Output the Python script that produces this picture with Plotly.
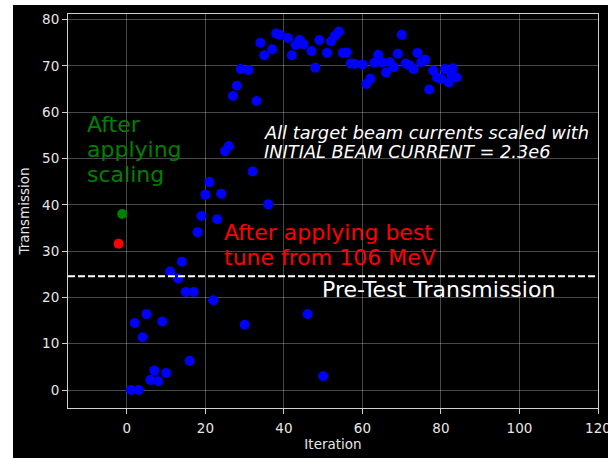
import plotly.graph_objects as go

# Optimisation run: transmission per iteration
iter_blue = [1, 2, 3, 4, 5, 6, 7, 8, 9, 10, 11, 13, 14, 15, 16, 17, 18, 19, 20, 21,
             22, 23, 24, 25, 26, 27, 28, 29, 30, 31, 32, 33, 34, 35, 36, 37, 38, 39, 41, 42,
             43, 44, 45, 46, 47, 48, 49, 50, 51, 52, 53, 54, 55, 56, 57, 58, 60, 61, 62, 63,
             64, 65, 66, 67, 68, 69, 70, 71, 72, 73, 74, 75, 76, 77, 78, 79, 80, 81, 82, 82.7,
             83, 84]
trans_blue = [0.0, 14.5, 0.0, 11.4, 16.4, 2.2, 4.2, 1.9, 14.8, 3.7, 25.6, 24.1, 27.7, 21.2, 6.3, 21.2, 34.1, 37.6, 42.2, 44.9,
              19.4, 36.9, 42.4, 51.6, 52.7, 63.5, 65.7, 69.3, 14.1, 69.1, 47.2, 62.4, 75.0, 72.3, 40.1, 73.6, 77.0, 76.7, 76.0, 72.3,
              74.5, 75.6, 74.7, 16.4, 73.2, 69.6, 75.6, 3.0, 72.8, 75.3, 76.5, 77.4, 72.8, 72.9, 70.5, 70.4, 70.3, 66.1, 67.2, 70.7,
              72.4, 70.8, 68.6, 70.8, 69.7, 72.6, 76.7, 70.5, 70.1, 69.3, 72.8, 70.8, 71.3, 64.9, 69.0, 67.5, 67.2, 69.3, 66.4, 68.2,
              69.5, 67.5]

# Starting points
iter_scaled = [-1.2]
trans_scaled = [38.0]
iter_best_tune = [-2.1]
trans_best_tune = [31.6]

pre_test_transmission = 24.6

x_ticks = [0, 20, 40, 60, 80, 100, 120]
y_ticks = [0, 10, 20, 30, 40, 50, 60, 70, 80]

FONT = "DejaVu Sans"
W, H = 610, 458
L, R, T, B = 68, 12, 14, 50
PW, PH = W - L - R, H - T - B

fig = go.Figure()
fig.add_trace(go.Scatter(x=iter_blue, y=trans_blue, mode="markers",
                         marker=dict(color="#0000ff", size=10, line=dict(width=0))))
fig.add_trace(go.Scatter(x=iter_scaled, y=trans_scaled, mode="markers",
                         marker=dict(color="#008000", size=10, line=dict(width=0))))
fig.add_trace(go.Scatter(x=iter_best_tune, y=trans_best_tune, mode="markers",
                         marker=dict(color="#ff0000", size=10, line=dict(width=0))))

# Pre-test reference line
fig.add_shape(type="line", xref="paper", yref="y", x0=0, x1=1,
              y0=pre_test_transmission, y1=pre_test_transmission,
              line=dict(color="white", width=2, dash="7px,3px"))


def note(x, y, text, color, size, italic=False):
    fig.add_annotation(x=x, y=y, xref="x", yref="y", text=text, showarrow=False,
                       xanchor="left", yanchor="middle",
                       font=dict(family=FONT, size=size, color=color,
                                 style="italic" if italic else "normal"))


for yy, line in zip([57.3, 51.9, 46.6], ["After", "applying", "scaling"]):
    note(-10.7, yy, line, "#008000", 22)
for yy, line in zip([34.1, 28.7], ["After applying best", "tune from 106 MeV"]):
    note(24.1, yy, line, "#ff0000", 22)
for yy, line in zip([55.6, 51.6], ["All target beam currents scaled with",
                                   "INITIAL BEAM CURRENT = 2.3e6"]):
    note(34.3, yy, line, "white", 17.8, italic=True)
note(49.2, 21.8, "Pre-Test Transmission", "white", 22)


# white page edges around the dark figure
def px_rect(x0, y0, x1, y1):
    fig.add_shape(type="rect", xref="paper", yref="paper", layer="above",
                  x0=(x0 - L) / PW, x1=(x1 - L) / PW,
                  y0=(H - B - y1) / PH, y1=(H - B - y0) / PH,
                  fillcolor="white", line=dict(width=0))


px_rect(0, 0, W, 5)
px_rect(0, 0, 13, H)
px_rect(608, 0, W, H)

axis_common = dict(showline=True, linecolor="#d0d0d0", linewidth=1, mirror=True,
                   ticks="outside", ticklen=5, tickwidth=1, tickcolor="#d0d0d0",
                   showgrid=True, gridcolor="rgba(255,255,255,0.28)", gridwidth=1,
                   zeroline=False, automargin=False, ticklabeloverflow="allow",
                   tickfont=dict(family=FONT, size=13.5, color="#e6e6e6"))

fig.update_layout(
    width=W, height=H,
    margin=dict(l=L, r=R, t=T, b=B, autoexpand=False),
    paper_bgcolor="black", plot_bgcolor="black",
    showlegend=False,
    xaxis=dict(range=[-15, 120], tickvals=x_ticks, ticklabelstandoff=3,
               title=dict(text="Iteration", standoff=4,
                          font=dict(family=FONT, size=13.5, color="#e6e6e6")),
               **axis_common),
    yaxis=dict(range=[-3.87, 81.2], tickvals=y_ticks,
               title=dict(text="Transmission", standoff=9,
                          font=dict(family=FONT, size=13.5, color="#e6e6e6")),
               **axis_common),
)

fig.write_html("out.html")
